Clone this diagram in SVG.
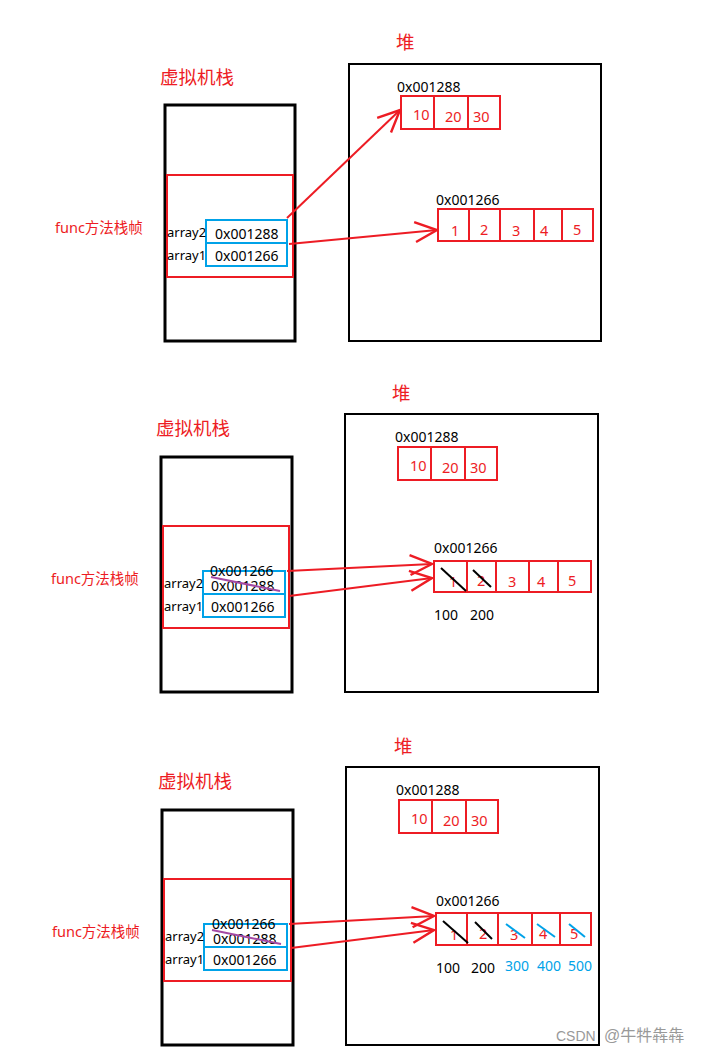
<svg xmlns="http://www.w3.org/2000/svg" width="708" height="1055" viewBox="0 0 708 1055">
<style>
.t{font-family:"Noto Sans","Noto Sans CJK SC",sans-serif}
.red{fill:#ed1c24}
.blk{fill:#000}
.title{font-size:18.5px}
.lbl{font-size:13px}
.fn{font-size:14.5px}
.addr{font-size:14px}
.num{font-size:14.5px}
.stack{fill:none;stroke:#000;stroke-width:3}
.heap{fill:none;stroke:#000;stroke-width:2}
.frame{fill:none;stroke:#ed1c24;stroke-width:2}
.cell{fill:none;stroke:#ed1c24;stroke-width:2}
.var{fill:none;stroke:#00a2e8;stroke-width:2}
.arr{fill:none;stroke:#ed1c24;stroke-width:2;marker-end:url(#ah)}
.sl{stroke:#000;stroke-width:2}
.slb{stroke:#00a2e8;stroke-width:2}
.pur{stroke:#a349a4;stroke-width:2}
.bl{fill:#00a2e8}
</style>
<defs>
<marker id="ah" viewBox="0 0 26 24" refX="24" refY="12" markerWidth="26" markerHeight="24" markerUnits="userSpaceOnUse" orient="auto">
<polyline points="2,2 24,12 2,22" fill="none" stroke="#ed1c24" stroke-width="2.4"/>
</marker>
</defs>
<rect width="708" height="1055" fill="#fff"/>

<!-- Panel 1 -->
<g id="p1-stack">
<text class="t red title" x="160" y="84">虚拟机栈</text>
<rect class="stack" x="165" y="105" width="130" height="236"/>
<rect class="frame" x="167" y="175" width="126" height="102"/>
<text class="t red fn" x="55" y="233">func方法栈帧</text>
<rect class="var" x="206" y="220" width="81" height="23"/>
<rect class="var" x="206" y="243" width="81" height="23"/>
<text class="t blk lbl" x="167" y="237">array2</text>
<text class="t blk lbl" x="167" y="260">array1</text>
<text class="t blk addr" x="215" y="239">0x001288</text>
<text class="t blk addr" x="215" y="261">0x001266</text>
</g>
<g id="p1-heap">
<text class="t red title" x="396" y="49">堆</text>
<rect class="heap" x="349" y="64" width="252" height="277"/>
<text class="t blk addr" x="397" y="92">0x001288</text>
<rect class="cell" x="401" y="96" width="99" height="33"/>
<line class="cell" x1="434" y1="96" x2="434" y2="129"/>
<line class="cell" x1="468" y1="96" x2="468" y2="129"/>
<text class="t red num" x="413" y="120">10</text>
<text class="t red num" x="445" y="122">20</text>
<text class="t red num" x="473" y="122">30</text>
<text class="t blk addr" x="436" y="205">0x001266</text>
<rect class="cell" x="438" y="209" width="155" height="32"/>
<line class="cell" x1="469" y1="209" x2="469" y2="241"/>
<line class="cell" x1="500" y1="209" x2="500" y2="241"/>
<line class="cell" x1="534" y1="209" x2="534" y2="241"/>
<line class="cell" x1="562" y1="209" x2="562" y2="241"/>
<text class="t red num" x="451" y="236">1</text>
<text class="t red num" x="480" y="235">2</text>
<text class="t red num" x="512" y="236">3</text>
<text class="t red num" x="540" y="236">4</text>
<text class="t red num" x="573" y="235">5</text>
</g>

<!-- Panel 2 -->
<g id="p2-stack">
<text class="t red title" x="156" y="435">虚拟机栈</text>
<rect class="stack" x="161" y="457" width="131" height="235"/>
<rect class="frame" x="163" y="526" width="126" height="102"/>
<text class="t red fn" x="51" y="584">func方法栈帧</text>
<rect class="var" x="203" y="571" width="82" height="23"/>
<rect class="var" x="203" y="594" width="82" height="23"/>
<text class="t blk lbl" x="164" y="588">array2</text>
<text class="t blk lbl" x="164" y="611">array1</text>
<text class="t blk addr" x="210" y="576">0x001266</text>
<text class="t blk addr" x="211" y="591">0x001288</text>
<line class="pur" x1="211" y1="577" x2="280" y2="591"/>
<text class="t blk addr" x="211" y="612">0x001266</text>
</g>
<g id="p2-heap">
<text class="t red title" x="392" y="400">堆</text>
<rect class="heap" x="345" y="414" width="253" height="278"/>
<text class="t blk addr" x="395" y="442">0x001288</text>
<rect class="cell" x="398" y="447" width="99" height="33"/>
<line class="cell" x1="431" y1="447" x2="431" y2="480"/>
<line class="cell" x1="465" y1="447" x2="465" y2="480"/>
<text class="t red num" x="410" y="471">10</text>
<text class="t red num" x="442" y="473">20</text>
<text class="t red num" x="470" y="473">30</text>
<text class="t blk addr" x="434" y="553">0x001266</text>
<rect class="cell" x="434" y="561" width="157" height="31"/>
<line class="cell" x1="467" y1="561" x2="467" y2="592"/>
<line class="cell" x1="496" y1="561" x2="496" y2="592"/>
<line class="cell" x1="529" y1="561" x2="529" y2="592"/>
<line class="cell" x1="558" y1="561" x2="558" y2="592"/>
<text class="t red num" x="449" y="587">1</text>
<text class="t red num" x="477" y="586">2</text>
<text class="t red num" x="508" y="587">3</text>
<text class="t red num" x="537" y="587">4</text>
<text class="t red num" x="568" y="586">5</text>
<line class="sl" x1="441" y1="568" x2="466" y2="591"/>
<line class="sl" x1="473" y1="570" x2="491" y2="587"/>
<text class="t blk addr" x="434" y="620">100</text>
<text class="t blk addr" x="470" y="620">200</text>
</g>

<!-- Panel 3 -->
<g id="p3-stack">
<text class="t red title" x="158" y="788">虚拟机栈</text>
<rect class="stack" x="162" y="810" width="131" height="235"/>
<rect class="frame" x="164" y="879" width="127" height="102"/>
<text class="t red fn" x="52" y="937">func方法栈帧</text>
<rect class="var" x="204" y="924" width="83" height="23"/>
<rect class="var" x="204" y="947" width="83" height="23"/>
<text class="t blk lbl" x="165" y="941">array2</text>
<text class="t blk lbl" x="165" y="964">array1</text>
<text class="t blk addr" x="212" y="929">0x001266</text>
<text class="t blk addr" x="213" y="944">0x001288</text>
<line class="pur" x1="212" y1="930" x2="281" y2="944"/>
<text class="t blk addr" x="213" y="965">0x001266</text>
</g>
<g id="p3-heap">
<text class="t red title" x="394" y="753">堆</text>
<rect class="heap" x="346" y="767" width="253" height="278"/>
<text class="t blk addr" x="396" y="795">0x001288</text>
<rect class="cell" x="399" y="800" width="99" height="33"/>
<line class="cell" x1="432" y1="800" x2="432" y2="833"/>
<line class="cell" x1="466" y1="800" x2="466" y2="833"/>
<text class="t red num" x="411" y="824">10</text>
<text class="t red num" x="443" y="826">20</text>
<text class="t red num" x="471" y="826">30</text>
<text class="t blk addr" x="436" y="906">0x001266</text>
<rect class="cell" x="436" y="913" width="155" height="32"/>
<line class="cell" x1="467" y1="913" x2="467" y2="945"/>
<line class="cell" x1="498" y1="913" x2="498" y2="945"/>
<line class="cell" x1="532" y1="913" x2="532" y2="945"/>
<line class="cell" x1="560" y1="913" x2="560" y2="945"/>
<text class="t red num" x="450" y="940">1</text>
<text class="t red num" x="479" y="939">2</text>
<text class="t red num" x="510" y="940">3</text>
<text class="t red num" x="539" y="939">4</text>
<text class="t red num" x="570" y="939">5</text>
<line class="sl" x1="443" y1="921" x2="468" y2="943"/>
<line class="sl" x1="475" y1="922" x2="492" y2="939"/>
<line class="slb" x1="506" y1="924" x2="525" y2="938"/>
<line class="slb" x1="537" y1="924" x2="555" y2="937"/>
<line class="slb" x1="569" y1="924" x2="585" y2="937"/>
<text class="t blk addr" x="436" y="973">100</text>
<text class="t blk addr" x="471" y="973">200</text>
<text class="t bl addr" x="505" y="971">300</text>
<text class="t bl addr" x="537" y="971">400</text>
<text class="t bl addr" x="568" y="971">500</text>
</g>

<g id="connectors">
<line class="arr" x1="287" y1="218" x2="400" y2="110"/>
<line class="arr" x1="289" y1="244" x2="437" y2="230"/>
<line class="arr" x1="287" y1="571" x2="432" y2="564"/>
<line class="arr" x1="289" y1="596" x2="432" y2="578"/>
<line class="arr" x1="289" y1="924" x2="434" y2="916"/>
<line class="arr" x1="291" y1="948" x2="434" y2="930"/>
</g>

<text y="1041" font-family="Liberation Sans,Noto Sans CJK SC,sans-serif" fill="#999"><tspan x="556" font-size="14">CSDN</tspan><tspan x="604" font-size="16">@牛牪犇犇</tspan></text>
</svg>
